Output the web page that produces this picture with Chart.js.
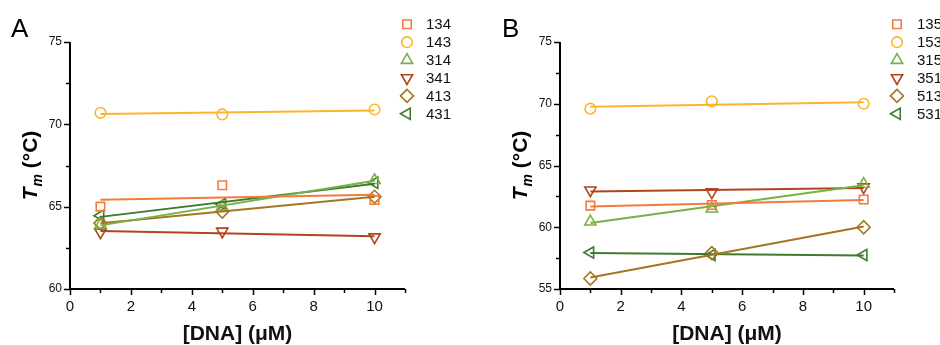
<!DOCTYPE html>
<html>
<head>
<meta charset="utf-8">
<script src="https://cdn.jsdelivr.net/npm/chart.js@4/dist/chart.umd.min.js"></script>
<style>
  html, body { margin: 0; padding: 0; background: #ffffff; }
  #wrap { position: relative; width: 940px; height: 345px; overflow: hidden; }
  .box { position: absolute; top: 0; width: 470px; height: 345px; }
  #boxA { left: 0; }
  #boxB { left: 470px; }
</style>
</head>
<body>
<div id="wrap">
  <div class="box" id="boxA"><canvas id="chartA"></canvas></div>
  <div class="box" id="boxB"><canvas id="chartB"></canvas></div>
</div>
<script>
// ---------- data ----------
const concentrations = [1, 5, 10];

const seriesLabelsA = ['134', '143', '314', '341', '413', '431'];
const tm134 = [65.0, 66.3, 65.4];
const tm143 = [70.7, 70.6, 70.9];
const tm314 = [63.9, 65.0, 66.6];
const tm341 = [63.45, 63.5, 63.15];
const tm413 = [64.0, 64.7, 65.6];
const tm431 = [64.45, 65.15, 66.45];

const seriesLabelsB = ['135', '153', '315', '351', '513', '531'];
const tm135 = [61.75, 61.8, 62.25];
const tm153 = [69.6, 70.2, 70.0];
const tm315 = [60.45, 61.5, 63.5];
const tm351 = [63.0, 62.85, 63.25];
const tm513 = [55.85, 57.9, 60.0];
const tm531 = [57.95, 57.75, 57.75];

const xTickLabels = [0, 2, 4, 6, 8, 10];
const yTicksA = [60, 65, 70, 75];
const yTicksB = [55, 60, 65, 70, 75];

// ---------- styles ----------
const colors = ['#F47A3C', '#FDB42A', '#78B246', '#B1441F', '#A6761F', '#3F7A2E'];
const markerStyles = [
  { pointStyle: 'rect', rotation: 0, radius: 6 },
  { pointStyle: 'circle', rotation: 0, radius: 5.3 },
  { pointStyle: 'triangle', rotation: 0, radius: 6.5 },
  { pointStyle: 'triangle', rotation: 180, radius: 6.5 },
  { pointStyle: 'rectRot', rotation: 0, radius: 6.5 },
  { pointStyle: 'triangle', rotation: -90, radius: 6.5 }
];
const FONT = "Arial, 'Liberation Sans', sans-serif";

function linFit(xs, ys) {
  const n = xs.length;
  const mx = xs.reduce((a, b) => a + b, 0) / n;
  const my = ys.reduce((a, b) => a + b, 0) / n;
  let sxy = 0, sxx = 0;
  for (let i = 0; i < n; i++) { sxy += (xs[i] - mx) * (ys[i] - my); sxx += (xs[i] - mx) ** 2; }
  const slope = sxy / sxx;
  const x0 = xs[0], x1 = xs[n - 1];
  return [{ x: x0, y: my + slope * (x0 - mx) }, { x: x1, y: my + slope * (x1 - mx) }];
}

function buildDatasets(labels, seriesList) {
  const ds = [];
  seriesList.forEach((vals, i) => {
    ds.push({
      label: labels[i] + ' fit',
      data: linFit(concentrations, vals),
      showLine: true,
      borderColor: colors[i],
      borderWidth: 2,
      pointRadius: 0,
      pointHoverRadius: 0,
      fill: false
    });
  });
  seriesList.forEach((vals, i) => {
    ds.push({
      label: labels[i],
      data: concentrations.map((x, k) => ({ x: x, y: vals[k] })),
      showLine: false,
      borderColor: colors[i],
      backgroundColor: 'rgba(0,0,0,0)',
      borderWidth: 1.6,
      pointStyle: markerStyles[i].pointStyle,
      rotation: markerStyles[i].rotation,
      pointRadius: markerStyles[i].radius,
      pointHoverRadius: markerStyles[i].radius,
      markerIndex: i
    });
  });
  return ds;
}

const decorPlugin = {
  id: 'decor',
  afterDraw(chart, args, opts) {
    const ctx = chart.ctx;
    const xs = chart.scales.x, ys = chart.scales.y;
    const area = chart.chartArea;
    ctx.save();
    ctx.strokeStyle = '#000';
    ctx.lineWidth = 1.5;
    for (let v = xs.min; v <= xs.max + 1e-9; v += 1) {
      const px = Math.round(xs.getPixelForValue(v)) + 0.5;
      const len = (v % 2 === 0) ? 6 : 4;
      ctx.beginPath(); ctx.moveTo(px, area.bottom); ctx.lineTo(px, area.bottom + len); ctx.stroke();
    }
    for (let v = ys.min; v <= ys.max + 1e-9; v += 2.5) {
      const py = Math.round(ys.getPixelForValue(v)) + 0.5;
      const len = (v % 5 === 0) ? 6 : 4;
      ctx.beginPath(); ctx.moveTo(area.left, py); ctx.lineTo(area.left - len, py); ctx.stroke();
    }
    ctx.lineWidth = 2;
    ctx.beginPath();
    ctx.moveTo(area.left, area.top);
    ctx.lineTo(area.left, area.bottom);
    ctx.lineTo(area.right, area.bottom);
    ctx.stroke();

    // y title: T_m (°C)
    ctx.save();
    ctx.translate(opts.yTitleX, (area.top + area.bottom) / 2);
    ctx.rotate(-Math.PI / 2);
    ctx.fillStyle = '#000';
    ctx.textBaseline = 'alphabetic';
    const f1 = "italic bold 21px " + FONT;
    const f2 = "italic bold 14px " + FONT;
    const f3 = "bold 21px " + FONT;
    ctx.font = f1; const w1 = ctx.measureText('T').width;
    ctx.font = f2; const w2 = ctx.measureText('m').width;
    ctx.font = f3; const w3 = ctx.measureText(' (°C)').width;
    let sx = -(w1 + w2 + 1 + w3) / 2;
    const base = 7;
    ctx.font = f1; ctx.fillText('T', sx, base); sx += w1 + 1;
    ctx.font = f2; ctx.fillText('m', sx, base + 5); sx += w2;
    ctx.font = f3; ctx.fillText(' (°C)', sx, base);
    ctx.restore();

    // legend
    const markerDs = chart.data.datasets.filter(d => d.markerIndex !== undefined);
    markerDs.forEach((d, k) => {
      const cy = opts.legendTop + k * 17.9;
      const i = d.markerIndex;
      ctx.save();
      ctx.strokeStyle = colors[i];
      ctx.fillStyle = 'rgba(0,0,0,0)';
      ctx.lineWidth = 1.6;
      Chart.helpers.drawPoint(ctx, {
        pointStyle: markerStyles[i].pointStyle,
        rotation: markerStyles[i].rotation,
        radius: markerStyles[i].radius,
        borderWidth: 1.6
      }, opts.legendMarkerX, cy);
      ctx.restore();
      ctx.fillStyle = '#111';
      ctx.font = "15px " + FONT;
      ctx.textBaseline = 'middle';
      ctx.textAlign = 'left';
      ctx.fillText(d.label, opts.legendTextX, cy + 1);
    });

    ctx.fillStyle = '#000';
    ctx.font = "26px " + FONT;
    ctx.textBaseline = 'alphabetic';
    ctx.textAlign = 'left';
    ctx.fillText(opts.letter, opts.letterX, 37);
    ctx.restore();
  }
};

function makeChart(canvasId, labels, seriesList, yMin, yMax, yTicks, geom) {
  return new Chart(document.getElementById(canvasId), {
    type: 'scatter',
    data: { datasets: buildDatasets(labels, seriesList) },
    options: {
      responsive: true,
      maintainAspectRatio: false,
      animation: false,
      events: [],
      layout: { padding: { left: 0, right: geom.right, top: geom.top, bottom: 0 } },
      plugins: {
        legend: { display: false },
        tooltip: { enabled: false },
        decor: geom.decor
      },
      scales: {
        x: {
          type: 'linear',
          min: 0, max: 11,
          border: { display: false },
          grid: { display: false, drawTicks: false },
          afterBuildTicks(scale) { scale.ticks = xTickLabels.map(v => ({ value: v })); },
          afterFit(scale) { scale.height = geom.bottomH; },
          ticks: {
            padding: 9,
            color: '#111',
            font: { family: FONT, size: 15 },
            maxRotation: 0,
            autoSkip: false
          },
          title: {
            display: true,
            text: '[DNA] (μM)',
            color: '#111',
            font: { family: FONT, size: 21, weight: 'bold', lineHeight: 1 },
            padding: { top: 0, bottom: 0 }
          }
        },
        y: {
          type: 'linear',
          min: yMin, max: yMax,
          border: { display: false },
          grid: { display: false, drawTicks: false },
          afterBuildTicks(scale) { scale.ticks = yTicks.map(v => ({ value: v })); },
          afterFit(scale) { scale.width = geom.leftW; },
          ticks: {
            padding: 8,
            color: '#111',
            font: { family: FONT, size: 12 },
            autoSkip: false
          }
        }
      }
    },
    plugins: [decorPlugin]
  });
}

makeChart('chartA', seriesLabelsA, [tm134, tm143, tm314, tm341, tm413, tm431], 60, 75, yTicksA, {
  leftW: 70, right: 65, top: 42, bottomH: 56,
  decor: { yTitleX: 30, legendTop: 24.3, legendMarkerX: 407, legendTextX: 426, letter: 'A', letterX: 11 }
});
makeChart('chartB', seriesLabelsB, [tm135, tm153, tm315, tm351, tm513, tm531], 55, 75, yTicksB, {
  leftW: 90, right: 46, top: 42, bottomH: 56,
  decor: { yTitleX: 50, legendTop: 24.3, legendMarkerX: 427, legendTextX: 447, letter: 'B', letterX: 32 }
});
</script>
</body>
</html>
